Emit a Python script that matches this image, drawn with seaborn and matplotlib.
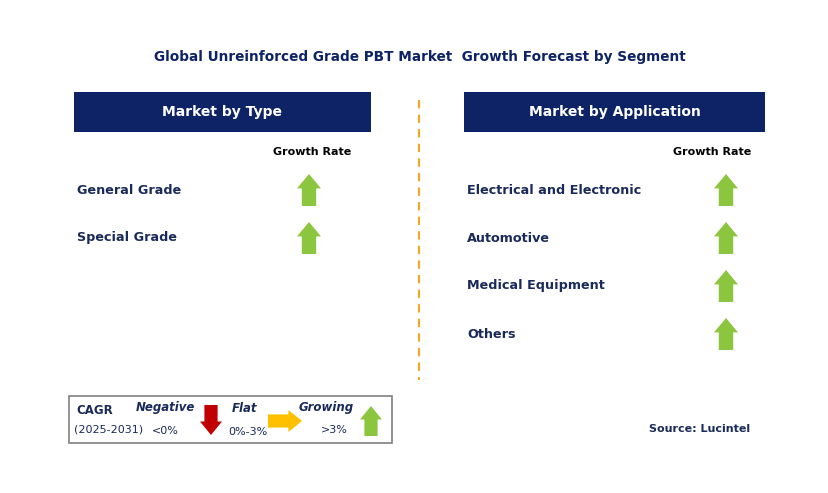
import matplotlib
matplotlib.use("Agg")
import matplotlib.pyplot as plt
import seaborn as sns
from matplotlib.patches import Rectangle, Polygon

sns.set_theme(style="white")

title = "Global Unreinforced Grade PBT Market  Growth Forecast by Segment"
type_header = "Market by Type"
app_header = "Market by Application"
type_categories = ["General Grade", "Special Grade"]
type_trend = ["up", "up"]
app_categories = ["Electrical and Electronic", "Automotive", "Medical Equipment", "Others"]
app_trend = ["up", "up", "up", "up"]
source = "Source: Lucintel"

NAVY = "#0d2366"
GREEN = "#8cc63f"
TXT = "#1a2a5a"

fig = plt.figure(figsize=(8.29, 4.93), dpi=100)
ax = fig.add_axes([0, 0, 1, 1])
ax.set_xlim(0, 829)
ax.set_ylim(493, 0)
ax.axis("off")

def up_arrow(cx, cy, color=GREEN, w=24, h=32):
    hw = w / 2
    sw = w * 0.3
    top = cy - h / 2
    bot = cy + h / 2
    mid = top + h * 0.45
    pts = [(cx, top), (cx + hw, mid), (cx + sw, mid), (cx + sw, bot),
           (cx - sw, bot), (cx - sw, mid), (cx - hw, mid)]
    ax.add_patch(Polygon(pts, closed=True, color=color, lw=0))

def down_arrow(cx, cy, color="#c00000", w=22, h=32):
    hw = w / 2; sw = w * 0.3
    top = cy - h / 2; bot = cy + h / 2; mid = bot - h * 0.45
    pts = [(cx, bot), (cx + hw, mid), (cx + sw, mid), (cx + sw, top),
           (cx - sw, top), (cx - sw, mid), (cx - hw, mid)]
    ax.add_patch(Polygon(pts, closed=True, color=color, lw=0))

def right_arrow(cx, cy, color="#ffc000", w=34, h=22):
    hh = h / 2; sh = h * 0.3
    l = cx - w / 2; r = cx + w / 2; mid = r - w * 0.4
    pts = [(r, cy), (mid, cy - hh), (mid, cy - sh), (l, cy - sh),
           (l, cy + sh), (mid, cy + sh), (mid, cy + hh)]
    ax.add_patch(Polygon(pts, closed=True, color=color, lw=0))

ax.text(420, 57, title, ha="center", va="center", fontsize=9.8, fontweight="bold", color=NAVY)

def panel(x0, x1, header, cats, trends, arrow_x, gr_x):
    ax.add_patch(Rectangle((x0, 92), x1 - x0, 40, color=NAVY, lw=0))
    ax.text((x0 + x1) / 2, 112, header, ha="center", va="center", fontsize=10,
            fontweight="bold", color="white")
    ax.text(gr_x, 152, "Growth Rate", ha="center", va="center", fontsize=8,
            fontweight="bold", color="black")
    for i, (c, t) in enumerate(zip(cats, trends)):
        y = 190 + 48 * i
        ax.text(x0 + 3, y, c, ha="left", va="center", fontsize=9.2,
                fontweight="bold", color=TXT)
        if t == "up":
            up_arrow(arrow_x, y)

panel(74, 371, type_header, type_categories, type_trend, 309, 312)
panel(464, 765, app_header, app_categories, app_trend, 726, 712)

ax.plot([419, 419], [100, 380], color="#f5a623", lw=1.5, ls=(0, (4, 3)))

# legend box
ax.add_patch(Rectangle((69, 396), 323, 47, fill=False, ec="#808080", lw=1.2))
ax.text(76, 411, "CAGR", fontsize=8.5, fontweight="bold", color=TXT, va="center")
ax.text(74, 430, "(2025-2031)", fontsize=8, color=TXT, va="center")
ax.text(165, 408, "Negative", fontsize=8.5, fontweight="bold", style="italic", color=TXT, ha="center", va="center")
ax.text(165, 431, "<0%", fontsize=8, color=TXT, ha="center", va="center")
down_arrow(211, 420, w=22, h=30)
ax.text(245, 408, "Flat", fontsize=8.5, fontweight="bold", style="italic", color=TXT, ha="center", va="center")
ax.text(248, 432, "0%-3%", fontsize=8, color=TXT, ha="center", va="center")
right_arrow(285, 421, w=34, h=22)
ax.text(326, 408, "Growing", fontsize=8.5, fontweight="bold", style="italic", color=TXT, ha="center", va="center")
ax.text(334, 430, ">3%", fontsize=8, color=TXT, ha="center", va="center")
up_arrow(371, 421, w=22, h=30)

ax.text(700, 429, source, ha="center", va="center", fontsize=8, fontweight="bold", color=TXT)

fig.savefig("out.png", dpi=100)
